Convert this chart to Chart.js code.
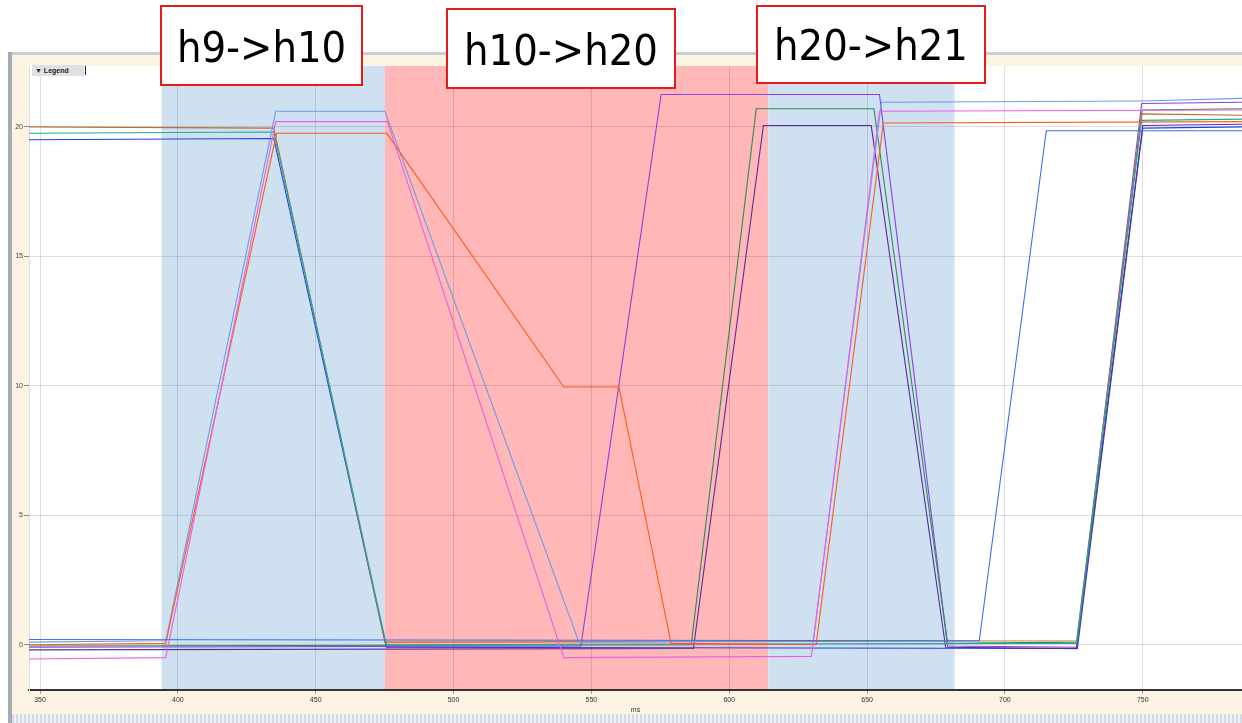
<!DOCTYPE html>
<html>
<head>
<meta charset="utf-8">
<script src="https://cdn.jsdelivr.net/npm/chart.js@4.4.1/dist/chart.umd.min.js"></script>
<style>
  body { margin:0; background:#fff; width:1242px; height:723px; overflow:hidden; position:relative; font-family:"Liberation Sans", Arial, sans-serif; }
  #frameTop { position:absolute; left:8px; top:52px; width:1234px; height:3px; background:#c9ced6; }
  #frameLeft { position:absolute; left:8px; top:52px; width:4px; height:671px; background:#a3abb7; }
  #panel { position:absolute; left:12px; top:55px; width:1230px; height:659px; background:#fcf3e3; }
  #strip { position:absolute; left:12px; top:714px; width:1230px; height:9px;
    background:repeating-linear-gradient(90deg,#d6dce4 0 2px,#eef1f5 2px 4px); }
  #legendBtn { position:absolute; left:32px; top:65px; width:52px; height:11px; background:#e0e0e0;
    font:bold 7px "Liberation Sans", Arial, sans-serif; line-height:11px; color:#222; padding-left:3px; box-sizing:border-box; }
  #legendBtn:after { content:""; position:absolute; right:-2px; top:1px; width:1px; height:9px; background:#222; }
  .note { position:absolute; background:#fff; border:2px solid #e31b1b; box-sizing:border-box;
    font-family:"Liberation Sans Narrow","DejaVu Sans Condensed","Liberation Sans",sans-serif;
    font-size:43px; color:#000; text-align:center; }
</style>
</head>
<body>
<div id="frameTop"></div>
<div id="frameLeft"></div>
<div id="panel"><canvas id="plot"></canvas></div>
<div id="strip"></div>
<div id="legendBtn">&#9660; Legend</div>
<div class="note" style="left:160px;top:5px;width:203px;height:81px;line-height:80px;">h9-&gt;h10</div>
<div class="note" style="left:446px;top:8px;width:230px;height:81px;line-height:80px;">h10-&gt;h20</div>
<div class="note" style="left:756px;top:5px;width:230px;height:79px;line-height:76px;">h20-&gt;h21</div>
<script>
// tick labels
const xTickValues = [350, 400, 450, 500, 550, 600, 650, 700, 750];
const yTickValues = [0, 5, 10, 15, 20];

// shaded phases
const bandStart = [394.1, 475.1, 614.2];
const bandEnd = [475.1, 614.2, 681.7];
const bandColors = ['#cfe0f1', '#ffb7b7', '#cfe0f1'];

// series
const brownX = [346, 434.8, 475.1, 726.0, 749.6, 786];
const brownY = [20.0, 19.95, 0.1, 0.15, 20.5, 20.45];
const tealX = [346, 434.8, 475.6, 726.0, 749.6, 786];
const tealY = [19.75, 19.8, 0.0, 0.05, 20.25, 20.3];
const blueX = [346, 434.8, 475.6, 726.3, 750, 786];
const blueY = [19.5, 19.55, -0.1, -0.15, 19.95, 20.0];
const lightBlueX = [346, 395.6, 435.5, 475.1, 545.5, 630.5, 655.2, 749.6, 786];
const lightBlueY = [0.1, 0.15, 20.6, 20.6, 0.1, 0.15, 20.95, 21.0, 21.1];
const pinkX = [346, 395.6, 435.5, 476, 540, 629.8, 654.5, 786];
const pinkY = [-0.55, -0.5, 20.2, 20.2, -0.5, -0.45, 20.6, 20.65];
const orangeX = [346, 395.6, 435.8, 475.8, 540, 560, 578.9, 631.5, 655.9, 786];
const orangeY = [0.0, 0.05, 19.75, 19.75, 9.95, 9.95, 0.05, 0.0, 20.15, 20.2];
const violetX = [346, 546.2, 575.3, 654.5, 679.2, 726, 749.6, 786];
const violetY = [-0.1, -0.05, 21.25, 21.25, -0.05, -0.1, 20.9, 20.95];
const greenX = [346, 586.2, 609.8, 652.5, 679.2, 726.2, 749.8, 786];
const greenY = [-0.05, 0.0, 20.7, 20.7, 0.05, 0.1, 20.65, 20.7];
const purpleX = [346, 587, 612.4, 651.5, 678.5, 726, 750, 786];
const purpleY = [-0.2, -0.15, 20.05, 20.05, -0.1, -0.15, 20.05, 20.1];
const royalX = [346, 690.7, 715, 786];
const royalY = [0.2, 0.15, 19.85, 19.85];

function pts(xs, ys){
    return xs.map((x, i) => ({x: x, y: ys[i]}));
}

function line(data, color){
    return {data: data, borderColor: color, borderWidth: 1.1, pointRadius: 0, tension: 0, fill: false};
}

const bands = {
    id: 'bands',
    beforeDraw(chart){
        const c = chart.ctx, a = chart.chartArea, xs = chart.scales.x;
        c.save();
        c.fillStyle = '#ffffff';
        c.fillRect(a.left, a.top, a.right - a.left, a.bottom - a.top);
        for (let i = 0; i < bandStart.length; i++){
            const l = xs.getPixelForValue(bandStart[i]);
            const r = xs.getPixelForValue(bandEnd[i]);
            c.fillStyle = bandColors[i];
            c.fillRect(l, a.top, r - l, a.bottom - a.top);
        }
        c.restore();
    }
};

new Chart(document.getElementById('plot'), {
    type: 'line',
    data: {
        datasets: [
            line(pts(royalX, royalY), '#3a6ef0'),
            line(pts(pinkX, pinkY), '#ee5fe0'),
            line(pts(orangeX, orangeY), '#ff5a1a'),
            line(pts(lightBlueX, lightBlueY), '#6e9ce8'),
            line(pts(tealX, tealY), '#22a89c'),
            line(pts(brownX, brownY), '#b8702e'),
            line(pts(greenX, greenY), '#2e8b57'),
            line(pts(purpleX, purpleY), '#5a2aa0'),
            line(pts(violetX, violetY), '#8a3fe0'),
            line(pts(blueX, blueY), '#2040e6')
        ]
    },
    plugins: [bands],
    options: {
        responsive: true,
        maintainAspectRatio: false,
        animation: false,
        layout: {padding: {top: 11, right: 0, left: 0, bottom: 0}},
        plugins: {legend: {display: false}, tooltip: {enabled: false}},
        scales: {
            x: {
                type: 'linear', min: 346, max: 786,
                afterBuildTicks: axis => { axis.ticks = xTickValues.map(v => ({value: v})); },
                afterFit: axis => { axis.height = 24; },
                grid: {color: 'rgba(0,0,0,0.12)', tickLength: 4, tickColor: '#999'},
                border: {color: '#333', width: 2},
                ticks: {color: '#333', font: {size: 7, family: 'Liberation Sans'}, padding: 2, maxRotation: 0},
                title: {display: true, text: 'ms', color: '#333', font: {size: 7}, padding: 0}
            },
            y: {
                min: -1.75, max: 22.35,
                afterBuildTicks: axis => { axis.ticks = yTickValues.map(v => ({value: v})); },
                afterFit: axis => { axis.width = 17; },
                grid: {color: 'rgba(0,0,0,0.12)', tickLength: 5, tickColor: '#888'},
                border: {color: '#ddd'},
                ticks: {color: '#444', font: {size: 7, family: 'Liberation Sans'}, padding: 1}
            }
        }
    }
});
</script>
</body>
</html>
